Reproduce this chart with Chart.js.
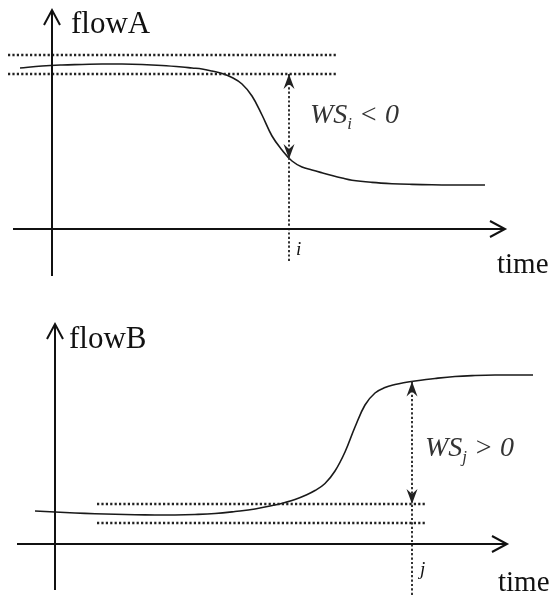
<!DOCTYPE html>
<html>
<head>
<meta charset="utf-8">
<script src="https://cdn.jsdelivr.net/npm/chart.js@4.4.0/dist/chart.umd.min.js"></script>
<style>
  html, body { margin: 0; padding: 0; background: #fff; }
  .panel { position: relative; width: 553px; }
</style>
</head>
<body>
<div class="panel" style="height:297px"><canvas id="chartA"></canvas></div>
<div class="panel" style="height:298px"><canvas id="chartB"></canvas></div>
<script>
// values (time units, flow units)
const timeA = [-3.2, -1, 1, 3, 5, 7, 9, 11, 13, 14, 15, 16, 17, 18, 19, 20, 21, 22, 23, 24, 25, 26, 27, 28, 29, 30, 32, 34, 36, 38, 40, 43.3];
const flowA = [16.1, 16.3, 16.4, 16.45, 16.5, 16.5, 16.45, 16.35, 16.2, 16.1, 16.0, 15.8, 15.55, 15.15, 14.5, 13.3, 11.4, 9.3, 7.9, 6.8, 6.2, 5.9, 5.62, 5.35, 5.1, 4.88, 4.66, 4.53, 4.46, 4.42, 4.4, 4.4];
const bandA = [17.4, 15.5];
const bandTimeA = [-4.4, 28.5];
const markA = 23.7;   // time i
const curveAtMarkA = 7.0;

const timeB = [-2, 0, 2, 4, 6, 8, 10, 12, 14, 16, 18, 20, 22, 23, 24, 25, 26, 27, 28, 29, 30, 31, 32, 33, 34, 35, 36, 38, 40, 42, 44, 47.8];
const flowB = [3.3, 3.2, 3.1, 3.03, 2.97, 2.93, 2.9, 2.9, 2.95, 3.05, 3.25, 3.5, 3.9, 4.15, 4.45, 4.85, 5.35, 6.05, 7.3, 9.2, 11.7, 13.9, 15.1, 15.65, 15.95, 16.15, 16.3, 16.55, 16.75, 16.85, 16.9, 16.9];
const bandB = [4.0, 2.1];
const bandTimeB = [4.2, 37.2];
const markB = 35.7;   // time j
const curveAtMarkB = 16.25;

const SERIF = '"Liberation Serif", "Times New Roman", serif';

function pts(xs, ys) {
  return xs.map((x, i) => ({ x: x, y: ys[i] }));
}

function drawHead(ctx, from, to, kind, color) {
  const ang = Math.atan2(to.y - from.y, to.x - from.x);
  ctx.save();
  ctx.translate(to.x, to.y);
  ctx.rotate(ang);
  if (kind === 'open') {
    ctx.strokeStyle = color;
    ctx.lineWidth = 2;
    ctx.beginPath();
    ctx.moveTo(-15, -8);
    ctx.lineTo(0, 0);
    ctx.lineTo(-15, 8);
    ctx.stroke();
  } else {
    ctx.fillStyle = color;
    ctx.beginPath();
    ctx.moveTo(0, 0);
    ctx.lineTo(-15, -5.5);
    ctx.lineTo(-10, 0);
    ctx.lineTo(-15, 5.5);
    ctx.closePath();
    ctx.fill();
  }
  ctx.restore();
}

const arrowHeads = {
  id: 'arrowHeads',
  afterDatasetsDraw(chart) {
    const ctx = chart.ctx;
    chart.data.datasets.forEach((ds, i) => {
      const p = chart.getDatasetMeta(i).data;
      if (p.length < 2) return;
      if (ds.arrowEnd) drawHead(ctx, p[p.length - 2], p[p.length - 1], ds.arrowEnd, ds.arrowColor);
      if (ds.arrowStart) drawHead(ctx, p[1], p[0], ds.arrowStart, ds.arrowColor);
    });
  }
};

// labels in data units, drawn through the scales
const textLabels = {
  id: 'textLabels',
  afterDraw(chart, args, opts) {
    const ctx = chart.ctx;
    const xs = chart.scales.x, ys = chart.scales.y;
    (opts.items || []).forEach(it => {
      let x = xs.getPixelForValue(it.t);
      const y = ys.getPixelForValue(it.f);
      ctx.save();
      ctx.textBaseline = 'alphabetic';
      if (it.sub) {
        ctx.fillStyle = '#333';
        ctx.font = 'italic 28px ' + SERIF;
        ctx.fillText(it.text, x, y);
        x += ctx.measureText(it.text).width;
        ctx.font = 'italic 17px ' + SERIF;
        ctx.fillText(it.sub, x, y + 6);
        x += ctx.measureText(it.sub).width;
        ctx.font = 'italic 28px ' + SERIF;
        ctx.fillText(it.rest, x, y);
      } else {
        ctx.fillStyle = '#111';
        ctx.font = (it.italic ? 'italic ' : '') + it.size + 'px ' + SERIF;
        ctx.textAlign = it.align || 'left';
        ctx.fillText(it.text, x, y);
      }
      ctx.restore();
    });
  }
};

function makeChart(id, cfg) {
  const axisStyle = { borderColor: '#111', borderWidth: 2, arrowColor: '#111' };
  const dotted = { borderColor: '#222', borderWidth: 2.5, borderDash: [2.2, 2.2] };
  return new Chart(document.getElementById(id), {
    type: 'scatter',
    data: {
      datasets: [
        Object.assign({ data: pts(cfg.axisX, [0, 0]), arrowEnd: 'open' }, axisStyle),
        Object.assign({ data: pts([0, 0], cfg.axisY), arrowEnd: 'open' }, axisStyle),
        Object.assign({ data: pts(cfg.bandTime, [cfg.band[0], cfg.band[0]]) }, dotted),
        Object.assign({ data: pts(cfg.bandTime, [cfg.band[1], cfg.band[1]]) }, dotted),
        Object.assign({}, dotted, { data: pts([cfg.mark, cfg.mark], cfg.markSpan), borderWidth: 2, borderColor: '#333' }),
        {
          data: pts([cfg.mark, cfg.mark], cfg.gap),
          borderWidth: 0, borderColor: 'rgba(0,0,0,0)',
          arrowStart: 'solid', arrowEnd: 'solid', arrowColor: '#222'
        },
        {
          data: pts(cfg.time, cfg.flow),
          borderColor: '#1a1a1a', borderWidth: 1.6,
          tension: 0.4
        }
      ]
    },
    options: {
      responsive: true,
      maintainAspectRatio: false,
      animation: false,
      showLine: true,
      layout: { padding: 0 },
      elements: { point: { radius: 0, hoverRadius: 0 } },
      scales: {
        x: { type: 'linear', display: false, min: cfg.xRange[0], max: cfg.xRange[1] },
        y: { type: 'linear', display: false, min: cfg.yRange[0], max: cfg.yRange[1] }
      },
      plugins: {
        legend: { display: false },
        tooltip: { enabled: false },
        textLabels: { items: cfg.labels }
      }
    },
    plugins: [arrowHeads, textLabels]
  });
}

makeChart('chartA', {
  xRange: [-5.2, 50.1], yRange: [-6.8, 22.9],
  axisX: [-3.9, 45.3], axisY: [-4.7, 21.9],
  time: timeA, flow: flowA,
  band: bandA, bandTime: bandTimeA,
  mark: markA, markSpan: [bandA[1], -3.3], gap: [curveAtMarkA, bandA[1]],
  labels: [
    { text: 'flowA', t: 1.9, f: 19.6, size: 31 },
    { text: 'time', t: 44.5, f: -4.4, size: 29 },
    { text: 'i', t: 24.4, f: -2.6, size: 19, italic: true },
    { text: 'WS', sub: 'i', rest: ' < 0', t: 25.8, f: 10.6 }
  ]
});

makeChart('chartB', {
  xRange: [-5.5, 49.8], yRange: [-5.1, 24.7],
  axisX: [-3.8, 45.2], axisY: [-4.6, 22],
  time: timeB, flow: flowB,
  band: bandB, bandTime: bandTimeB,
  mark: markB, markSpan: [curveAtMarkB, -5.1], gap: [bandB[0], curveAtMarkB],
  labels: [
    { text: 'flowB', t: 1.4, f: 19.6, size: 31 },
    { text: 'time', t: 44.3, f: -4.7, size: 29 },
    { text: 'j', t: 36.5, f: -3.1, size: 19, italic: true },
    { text: 'WS', sub: 'j', rest: ' > 0', t: 37.0, f: 8.8 }
  ]
});
</script>
</body>
</html>
